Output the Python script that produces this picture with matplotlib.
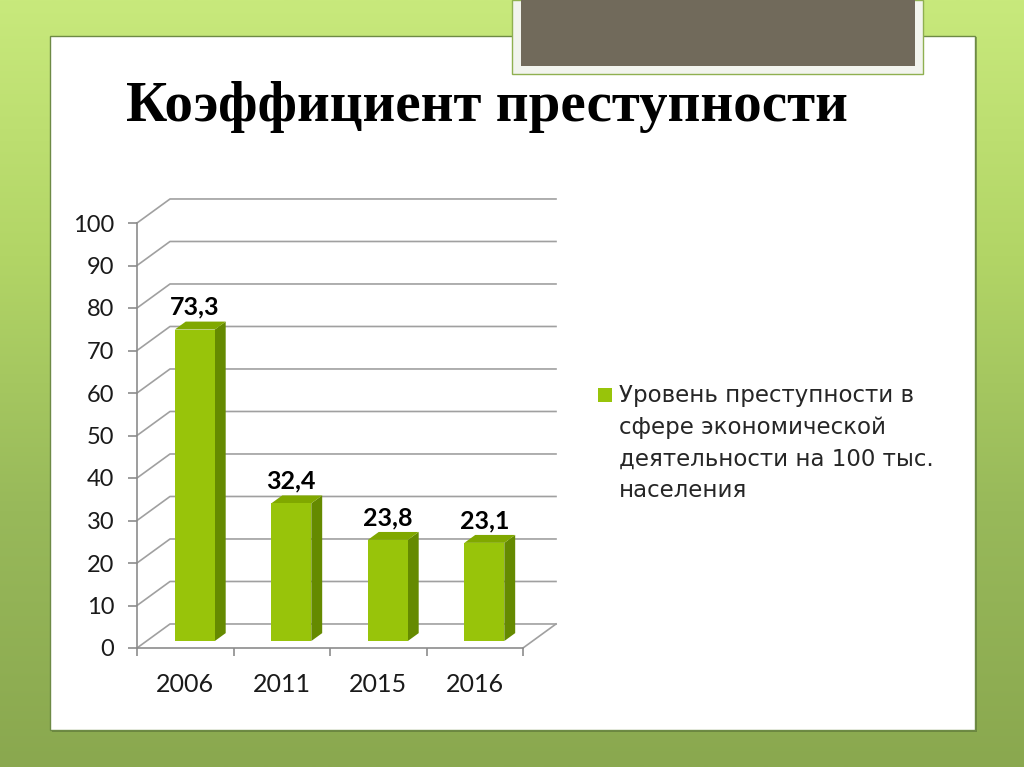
import numpy as np
import matplotlib.pyplot as plt
from matplotlib.patches import Rectangle, Polygon
from matplotlib.colors import LinearSegmentedColormap

# data
years = ['2006', '2011', '2015', '2016']
values = [73.3, 32.4, 23.8, 23.1]
value_labels = ['73,3', '32,4', '23,8', '23,1']
y_ticks = list(range(0, 101, 10))
title = 'Коэффициент преступности'
legend_text = 'Уровень преступности в\nсфере экономической\nдеятельности на 100 тыс.\nнаселения'

W, H = 1024, 767
fig = plt.figure(figsize=(W / 100, H / 100), dpi=100)


def fx(px):
    return px / W


def fy(py):
    return 1 - py / H


# slide background
bg = fig.add_axes([0, 0, 1, 1])
bg.axis('off')
cmap = LinearSegmentedColormap.from_list('bg', ['#c8e97c', '#b2d566', '#98b95a', '#8aa84f'])
grad = np.linspace(0, 1, 256).reshape(-1, 1)
bg.imshow(grad, cmap=cmap, aspect='auto', extent=[0, 1, 0, 1], origin='upper')
bg.set_xlim(0, 1)
bg.set_ylim(0, 1)

# white panel
fig.patches.append(Rectangle((fx(52), fy(732)), fx(925), 695 / H, transform=fig.transFigure,
                             facecolor='#4f6630', edgecolor='none', alpha=0.5, zorder=1))
fig.patches.append(Rectangle((fx(50), fy(730)), fx(925), 694 / H, transform=fig.transFigure,
                             facecolor='white', edgecolor='#6d8a45', lw=1, zorder=2))
# grey header box
fig.patches.append(Rectangle((fx(512), fy(74)), fx(411), 74 / H, transform=fig.transFigure,
                             facecolor='#f2f4ee', edgecolor='#8fb050', lw=1, zorder=3))
fig.patches.append(Rectangle((fx(521), fy(66)), fx(394), 66 / H, transform=fig.transFigure,
                             facecolor='#716a5b', edgecolor='none', zorder=4))

fig.text(fx(126), fy(107), title, family='Liberation Serif', weight='bold', fontsize=41,
         va='center', ha='left', color='black', zorder=5)

# chart (pseudo 3D)
ax = fig.add_axes([fx(137), fy(648), fx(386), 425 / H])
ax.set_zorder(5)
ax.patch.set_alpha(0)
ax.set_xlim(-0.5, 3.5)
ax.set_ylim(0, 100)
for s in ['top', 'right']:
    ax.spines[s].set_visible(False)
for s in ['left', 'bottom']:
    ax.spines[s].set_color('#8c8c8c')
    ax.spines[s].set_linewidth(1.2)

DX, DY = 0.342, 5.65
grid_c = '#a0a0a0'


def proj(x, y, d):
    return x + DX * d, y + DY * d


for t in y_ticks:
    p0 = (-0.5, t)
    p1 = proj(-0.5, t, 1)
    p2 = proj(3.5, t, 1)
    ax.plot([p0[0], p1[0], p2[0]], [p0[1], p1[1], p2[1]], color=grid_c, lw=1.2,
            clip_on=False, zorder=1)
fl = proj(3.5, 0, 1)
ax.plot([3.5, fl[0]], [0, fl[1]], color=grid_c, lw=1.2, clip_on=False, zorder=1)

d0, d1, hw = 0.29, 0.62, 0.207
for i, v in enumerate(values):
    front = [proj(i - hw, 0, d0), proj(i + hw, 0, d0), proj(i + hw, v, d0), proj(i - hw, v, d0)]
    side = [proj(i + hw, 0, d0), proj(i + hw, 0, d1), proj(i + hw, v, d1), proj(i + hw, v, d0)]
    top = [proj(i - hw, v, d0), proj(i + hw, v, d0), proj(i + hw, v, d1), proj(i - hw, v, d1)]
    ax.add_patch(Polygon(side, closed=True, facecolor='#658a00', edgecolor='none',
                         clip_on=False, zorder=3))
    ax.add_patch(Polygon(top, closed=True, facecolor='#80a800', edgecolor='none',
                         clip_on=False, zorder=3))
    ax.add_patch(Polygon(front, closed=True, facecolor='#98c40a', edgecolor='none',
                         clip_on=False, zorder=4))
    lx, ly = proj(i, v, d0)
    ax.text(lx, ly + 5.2, value_labels[i], ha='center', va='center', fontsize=18,
            weight='bold', family='Lato', color='black', zorder=6)

ax.set_yticks(y_ticks)
ax.set_yticklabels([str(t) for t in y_ticks], family='Lato', fontsize=17, color='#1a1a1a')
ax.tick_params(axis='y', length=6.5, color='#8c8c8c', width=1.2, pad=10)
ax.set_xticks([-0.5, 0.5, 1.5, 2.5, 3.5])
ax.set_xticklabels([])
ax.set_xticks(range(len(years)), minor=True)
ax.set_xticklabels(years, minor=True, family='Lato', fontsize=18, color='#1a1a1a')
ax.tick_params(axis='x', which='major', length=6, color='#8c8c8c', width=1.2)
ax.tick_params(axis='x', which='minor', length=0, pad=18)

# legend
fig.patches.append(Rectangle((fx(598), fy(402)), fx(14), 14 / H, transform=fig.transFigure,
                             facecolor='#98c40a', edgecolor='none', zorder=6))
fig.text(fx(619), fy(384), legend_text, family='DejaVu Sans', fontsize=16.5, color='#262626',
         va='top', ha='left', linespacing=1.49, zorder=6)

fig.savefig('out.png', dpi=100)
